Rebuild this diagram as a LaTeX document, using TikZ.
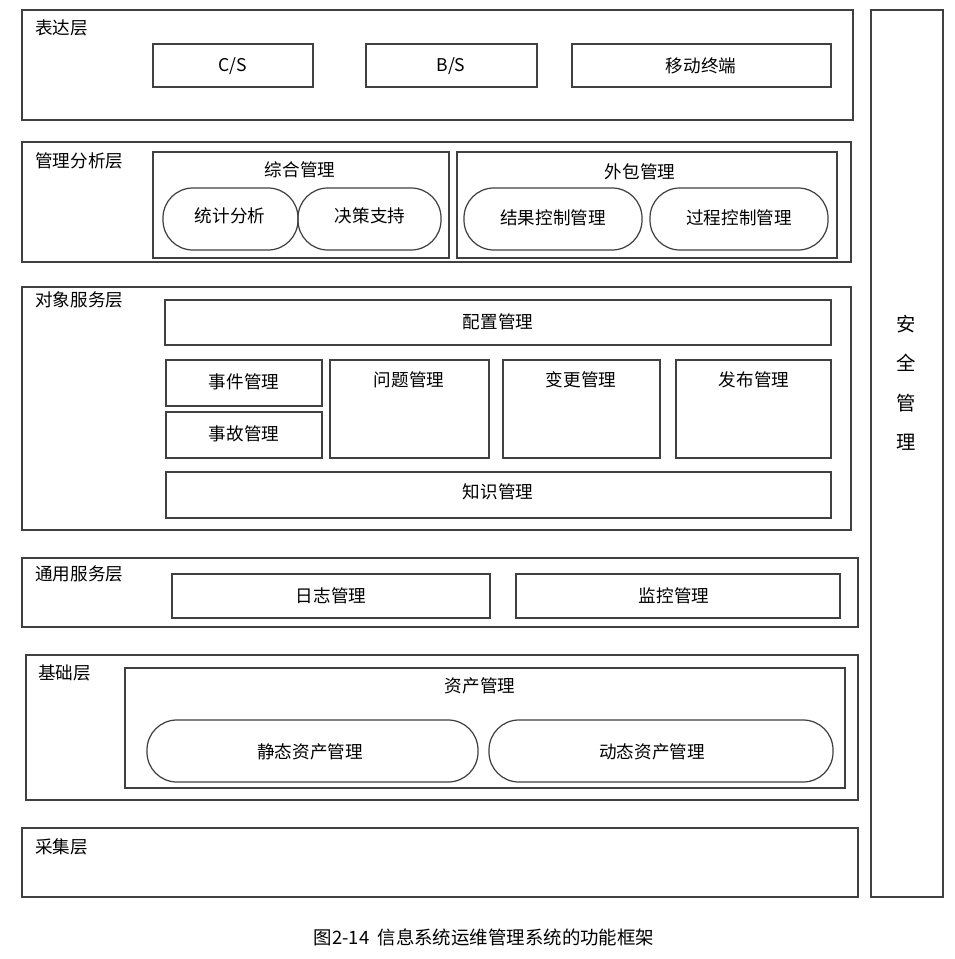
\documentclass[tikz,border=0pt]{standalone}
\usepackage{fontspec}
\setmainfont{Noto Sans CJK SC}
\begin{document}
\begin{tikzpicture}[x=0.02cm,y=-0.02cm,
  bx/.style={draw=black!75,line width=0.7pt},
  rb/.style={draw=black!75,line width=0.7pt,rounded corners=17pt},
  lbl/.style={font=\fontsize{10}{11}\selectfont,inner sep=0pt}]
\useasboundingbox (0,0) rectangle (955,959);
\fill[white] (0,0) rectangle (955,959);
% layers
\draw[bx] (22,10) rectangle (853,120);
\node[lbl,anchor=west] (l1) at (35,28) {表达层};
\draw[bx] (153,44) rectangle (313,87); \node[lbl] (cs) at (233,66) {C/S};
\draw[bx] (366,44) rectangle (537,87); \node[lbl] (bs) at (451,66) {B/S};
\draw[bx] (572,44) rectangle (831,87); \node[lbl] (yd) at (701,66) {移动终端};

\draw[bx] (22,142) rectangle (851,262);
\node[lbl,anchor=west] (l2) at (35,161) {管理分析层};
\draw[bx] (153,152) rectangle (449,258); \node[lbl] (zh) at (300,170) {综合管理};
\draw[rb] (163,188) rectangle (298,250); \node[lbl] (tj) at (230,216) {统计分析};
\draw[rb] (298,188) rectangle (441,250); \node[lbl] (jc) at (370,216) {决策支持};
\draw[bx] (457,152) rectangle (837,258); \node[lbl] (wb) at (640,172) {外包管理};
\draw[rb] (464,188) rectangle (642,250); \node[lbl] (jg) at (553,218) {结果控制管理};
\draw[rb] (650,188) rectangle (828,250); \node[lbl] (gc) at (739,218) {过程控制管理};

\draw[bx] (22,287) rectangle (851,530);
\node[lbl,anchor=west] (l3) at (35,300) {对象服务层};
\draw[bx] (165,300) rectangle (831,345); \node[lbl] (pz) at (498,322) {配置管理};
\draw[bx] (166,360) rectangle (322,406); \node[lbl] (sj) at (244,382) {事件管理};
\draw[bx] (166,412) rectangle (322,458); \node[lbl] (sg) at (244,434) {事故管理};
\draw[bx] (330,360) rectangle (489,458); \node[lbl] (wt) at (409,380) {问题管理};
\draw[bx] (503,360) rectangle (660,458); \node[lbl] (bg) at (581,380) {变更管理};
\draw[bx] (676,360) rectangle (831,458); \node[lbl] (fb) at (754,380) {发布管理};
\draw[bx] (166,472) rectangle (831,518); \node[lbl] (zs) at (498,492) {知识管理};

\draw[bx] (22,558) rectangle (858,627);
\node[lbl,anchor=west] (l4) at (35,574) {通用服务层};
\draw[bx] (172,574) rectangle (490,618); \node[lbl] (rz) at (331,596) {日志管理};
\draw[bx] (516,574) rectangle (840,618); \node[lbl] (jk) at (674,596) {监控管理};

\draw[bx] (26,655) rectangle (858,800);
\node[lbl,anchor=west] (l5) at (38,673) {基础层};
\draw[bx] (125,668) rectangle (845,788); \node[lbl] (zc) at (480,686) {资产管理};
\draw[rb] (147,720) rectangle (478,782); \node[lbl] (jt) at (310,752) {静态资产管理};
\draw[rb] (489,720) rectangle (833,782); \node[lbl] (dt) at (652,752) {动态资产管理};

\draw[bx] (22,828) rectangle (858,897);
\node[lbl,anchor=west] (l6) at (35,847) {采集层};

\draw[bx] (871,10) rectangle (943,897);
\node[lbl,align=center,font=\fontsize{11}{22.5}\selectfont] (aq) at (906,383) {安\\全\\管\\理};

\node[lbl,font=\fontsize{10.5}{12}\selectfont] (cap) at (484,937) {图2-14\ \ 信息系统运维管理系统的功能框架};
\end{tikzpicture}
\end{document}
